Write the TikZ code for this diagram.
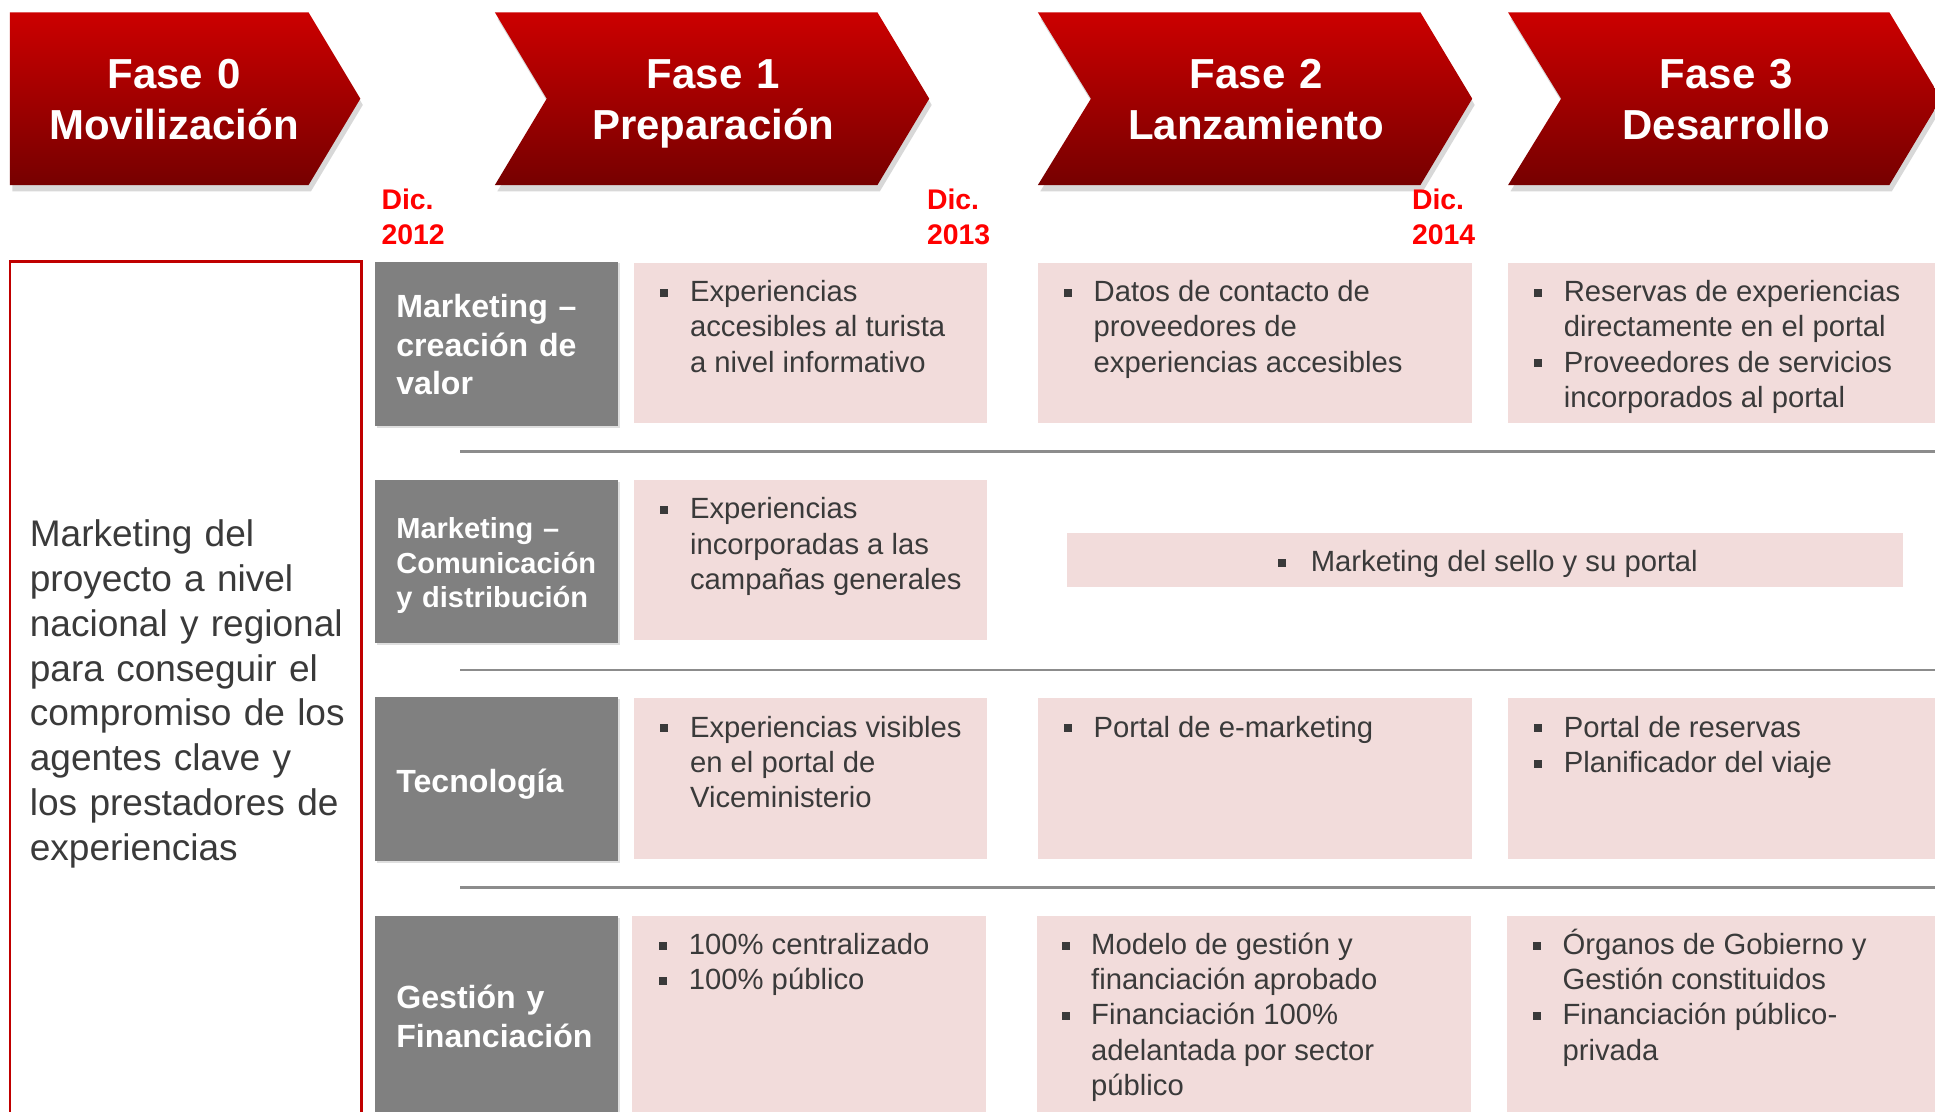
\documentclass[tikz,border=0pt]{standalone}
\usepackage{fontspec}
\setmainfont{Liberation Sans}
\usetikzlibrary{shadows}
\definecolor{chevtop}{HTML}{CC0000}
\definecolor{chevbot}{HTML}{760000}
\definecolor{datered}{HTML}{FF0000}
\definecolor{boxred}{HTML}{C00000}
\definecolor{labgray}{HTML}{808080}
\definecolor{cellpink}{HTML}{F2DCDB}
\definecolor{txtgray}{HTML}{3A3A3A}
\definecolor{linegray}{HTML}{8C8C8C}
\newcommand\bsq{\raisebox{4pt}{\rule{6.5pt}{6.5pt}}}
\newcommand\bfirst{\hangindent=24pt\hangafter=1\noindent\makebox[24pt][l]{\bsq}}
\newcommand\bnext{\par\bfirst}
\newcommand\cellbox[1]{\parbox[t]{330pt}{#1}}
\tikzset{
 chev/.style={top color=chevtop, bottom color=chevbot, draw=none,
   drop shadow={shadow xshift=2pt, shadow yshift=-5pt, opacity=0.3}},
 chevtext/.style={text=white, font=\fontsize{34}{41}\selectfont\bfseries, align=center,
   text width=320pt, inner sep=0pt, anchor=base},
 datetext/.style={text=datered, font=\fontsize{23}{28}\selectfont\bfseries, align=left,
   text width=80pt, inner sep=0pt, anchor=base west},
 labbox/.style={fill=labgray, draw=none,
   drop shadow={shadow xshift=1.5pt, shadow yshift=-1.5pt, opacity=0.25}},
 labtext/.style={text=white, font=\fontsize{26}{31.5}\selectfont\bfseries, align=left,
   text width=180pt, inner sep=0pt, anchor=base west},
 labsmall/.style={labtext, font=\fontsize{23.5}{28}\selectfont\bfseries},
 cell/.style={fill=cellpink, draw=none},
 celltext/.style={text=txtgray, font=\fontsize{23.7}{28.5}\selectfont,
   inner sep=0pt, anchor=base west},
 sepline/.style={draw=linegray, line width=2pt},
 sidebox/.style={draw=boxred, line width=2pt, fill=white},
 sidetext/.style={text=txtgray, font=\fontsize{30}{36.3}\selectfont, align=left,
   text width=280pt, inner sep=0pt, anchor=base west},
}
\begin{document}
\begin{tikzpicture}[x=1pt,y=-1pt]
\useasboundingbox (0,0) rectangle (1568,901);
\clip (0,0) rectangle (1568,901);
\fill[white] (0,0) rectangle (1568,901);
% chevrons
\path[chev] (8,10) -- (250,10) -- (292,80) -- (250,150) -- (8,150) -- cycle;
\path[chev] (401,10) -- (711,10) -- (753,80) -- (711,150) -- (401,150) -- (443,80) -- cycle;
\path[chev] (841,10) -- (1151,10) -- (1193,80) -- (1151,150) -- (841,150) -- (884,80) -- cycle;
\path[chev] (1222,10) -- (1531,10) -- (1573,80) -- (1531,150) -- (1222,150) -- (1265,80) -- cycle;
\node[chevtext] (f0) at (141,72) {Fase 0\\Movilización};
\node[chevtext] (f1) at (578,72) {Fase 1\\Preparación};
\node[chevtext] (f2) at (1018,72) {Fase 2\\Lanzamiento};
\node[chevtext] (f3) at (1399,72) {Fase 3\\Desarrollo};
% dates
\node[datetext] (d12) at (309,170) {Dic.\\2012};
\node[datetext] (d13) at (751,170) {Dic.\\2013};
\node[datetext] (d14) at (1144,170) {Dic.\\2014};
% side box
\path[sidebox] (8,212) rectangle (293,915);
\node[sidetext] (side) at (24,443) {Marketing del\\proyecto a nivel\\nacional y regional\\para conseguir el\\compromiso de los\\agentes clave y\\los prestadores de\\experiencias};
% separators
\draw[sepline] (373,366) -- (1570,366);
\draw[sepline] (373,543) -- (1570,543);
\draw[sepline] (373,719) -- (1570,719);
% label boxes
\path[labbox] (304,212) rectangle (501,345);
\path[labbox] (304,389) rectangle (501,521);
\path[labbox] (304,565) rectangle (501,698);
\path[labbox] (304,742) rectangle (501,915);
\node[labtext] (l1) at (321,257) {Marketing –\\creación de\\valor};
\node[labsmall] (l2) at (321,436.5) {Marketing –\\Comunicación\\y distribución};
\node[labtext] (l3) at (321,642) {Tecnología};
\node[labtext] (l4) at (321,817) {Gestión y\\Financiación};
% cells row 1
\path[cell] (514,213) rectangle (800,343);
\path[cell] (841,213) rectangle (1193,343);
\path[cell] (1222,213) rectangle (1570,343);
\node[celltext] (c11) at (535,244.5) {\cellbox{\bfirst Experiencias\\accesibles al turista\\a nivel informativo}};
\node[celltext] (c12) at (862,244.5) {\cellbox{\bfirst Datos de contacto de\\proveedores de\\experiencias accesibles}};
\node[celltext] (c13) at (1243,244.5) {\cellbox{\bfirst Reservas de experiencias\\directamente en el portal\bnext Proveedores de servicios\\incorporados al portal}};
% cells row 2
\path[cell] (514,389) rectangle (800,519);
\path[cell] (865,432) rectangle (1542,476);
\node[celltext] (c21) at (535,420.5) {\cellbox{\bfirst Experiencias\\incorporadas a las\\campañas generales}};
\node[celltext] (c22) at (1035,463.5) {\makebox[27pt][l]{\bsq}Marketing del sello y su portal};
% cells row 3
\path[cell] (514,566) rectangle (800,696);
\path[cell] (841,566) rectangle (1193,696);
\path[cell] (1222,566) rectangle (1570,696);
\node[celltext] (c31) at (535,597.5) {\cellbox{\bfirst Experiencias visibles\\en el portal de\\Viceministerio}};
\node[celltext] (c32) at (862,597.5) {\cellbox{\bfirst Portal de e-marketing}};
\node[celltext] (c33) at (1243,597.5) {\cellbox{\bfirst Portal de reservas\bnext Planificador del viaje}};
% cells row 4
\path[cell] (512,742) rectangle (799,915);
\path[cell] (840,742) rectangle (1192,915);
\path[cell] (1221,742) rectangle (1570,915);
\node[celltext] (c41) at (534,773.5) {\cellbox{\bfirst 100\% centralizado\bnext 100\% público}};
\node[celltext] (c42) at (860,773.5) {\cellbox{\bfirst Modelo de gestión y\\financiación aprobado\bnext Financiación 100\%\\adelantada por sector\\público}};
\node[celltext] (c43) at (1242,773.5) {\cellbox{\bfirst Órganos de Gobierno y\\Gestión constituidos\bnext Financiación público-\\privada}};
\end{tikzpicture}
\end{document}
